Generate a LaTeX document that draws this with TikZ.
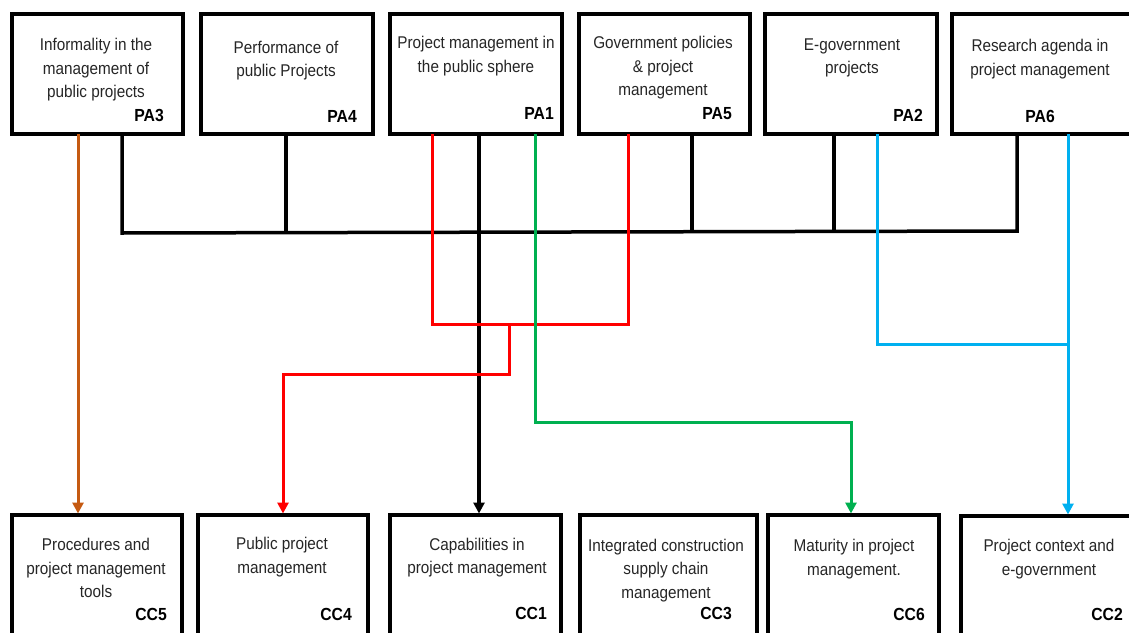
\documentclass[tikz,border=0pt]{standalone}
\usepackage{fontspec}
\setmainfont[FakeStretch=0.9]{Liberation Sans}
\usetikzlibrary{arrows.meta}
\definecolor{cred}{RGB}{255,0,0}
\definecolor{cgreen}{RGB}{0,176,80}
\definecolor{cblue}{RGB}{0,176,240}
\definecolor{corange}{RGB}{197,90,17}
\begin{document}
\begin{tikzpicture}[x=1pt,y=-1pt,
 box/.style={draw=black, line width=3.5pt, inner sep=0pt, outer sep=0pt},
 txt/.style={anchor=north, align=center, inner sep=0pt, font=\fontsize{17}{23.5}\selectfont, text=black!85},
 tag/.style={anchor=south east, inner sep=0pt, font=\fontsize{17.5}{20}\selectfont\bfseries},
 link/.style={line width=3.5pt},
 clink/.style={line width=3pt},
 arr/.style={-{Triangle[length=11pt,width=11pt]}, shorten >=1.5pt},
]
\clip (0,0) rectangle (1129,632);
\fill[white] (0,0) rectangle (1129,632);
% top boxes
\node[box, minimum width=171pt, minimum height=120pt] (PA3) at (97.5,74) {};
\node[box, minimum width=172pt, minimum height=120pt] (PA4) at (287,74) {};
\node[box, minimum width=172pt, minimum height=120pt] (PA1) at (476,74) {};
\node[box, minimum width=171pt, minimum height=120pt] (PA5) at (664.5,74) {};
\node[box, minimum width=172pt, minimum height=120pt] (PA2) at (851,74) {};
\node[box, minimum width=183pt, minimum height=120pt] (PA6) at (1043.5,74) {};
% bottom boxes
\node[box, minimum width=170pt, minimum height=125pt] (CC5) at (97,577.5) {};
\node[box, minimum width=170pt, minimum height=125pt] (CC4) at (283,577.5) {};
\node[box, minimum width=171pt, minimum height=125pt] (CC1) at (475.5,577.5) {};
\node[box, minimum width=177pt, minimum height=125pt] (CC3) at (668.5,577.5) {};
\node[box, minimum width=171pt, minimum height=125pt] (CC6) at (853.5,577.5) {};
\node[box, minimum width=179pt, minimum height=125pt] (CC2) at (1050.5,578.5) {};
% texts
\node[txt] (tPA3) at (96,38) {Informality in the\\management of\\public projects};
\node[tag] (lPA3) at (164,122) {PA3};
\node[txt] (tPA4) at (286,40.5) {Performance of\\public Projects};
\node[tag] (lPA4) at (357,123) {PA4};
\node[txt] (tPA1) at (476,36) {Project management in\\the public sphere};
\node[tag] (lPA1) at (554,120) {PA1};
\node[txt] (tPA5) at (663,36) {Government policies\\\& project\\management};
\node[tag] (lPA5) at (732,120) {PA5};
\node[txt] (tPA2) at (852,38.5) {E-government\\projects};
\node[tag] (lPA2) at (923,122) {PA2};
\node[txt] (tPA6) at (1040,39) {Research agenda in\\project management};
\node[tag] (lPA6) at (1055,123) {PA6};
\node[txt] (tCC5) at (96,538) {Procedures and\\project management\\tools};
\node[tag] (lCC5) at (167,621) {CC5};
\node[txt] (tCC4) at (282,537) {Public project\\management};
\node[tag] (lCC4) at (352,621) {CC4};
\node[txt] (tCC1) at (477,537.5) {Capabilities in\\project management};
\node[tag] (lCC1) at (547,620) {CC1};
\node[txt] (tCC3) at (666,538.5) {Integrated construction\\supply chain\\management};
\node[tag] (lCC3) at (732,620) {CC3};
\node[txt] (tCC6) at (854,539) {Maturity in project\\management.};
\node[tag] (lCC6) at (925,621) {CC6};
\node[txt] (tCC2) at (1049,539) {Project context and\\e-government};
\node[tag] (lCC2) at (1123,621) {CC2};
% junction coordinates
\coordinate (b3) at (122,233);
\coordinate (b4) at (286,233);
\coordinate (b1) at (479,233);
\coordinate (b5) at (692,232);
\coordinate (b2) at (834,232);
\coordinate (b6) at (1017,231);
\coordinate (o1) at (78,300);
\coordinate (r1) at (432,323);
\coordinate (r2) at (628,324);
\coordinate (r3) at (509,324);
\coordinate (r4) at (283,374);
\coordinate (g1) at (535,422);
\coordinate (g2) at (851,422);
\coordinate (u1) at (877,347);
\coordinate (u2) at (1068,344);
% black bus
\draw[link] (PA3.south -| b3) -- (b3) -- (b6) -- (PA6.south -| b6);
\draw[link] (PA4.south -| b4) -- (b4);
\draw[link] (PA5.south -| b5) -- (b5);
\draw[link] (PA2.south -| b2) -- (b2);
\draw[link, arr] (PA1.south -| b1) -- (CC1.north -| b1);
% orange
\draw[clink, corange, arr] (PA3.south -| o1) -- (CC5.north -| o1);
% red
\draw[clink, cred] (PA1.south -| r1) |- (r2) -- (PA5.south -| r2);
\draw[clink, cred, arr] (r3) |- (r4) -- (CC4.north -| r4);
% green
\draw[clink, cgreen, arr] (PA1.south -| g1) |- (g2) -- (CC6.north -| g2);
% blue
\draw[clink, cblue] (PA2.south -| u1) |- (u2);
\draw[clink, cblue, arr] (PA6.south -| u2) -- (CC2.north -| u2);
\end{tikzpicture}
\end{document}
